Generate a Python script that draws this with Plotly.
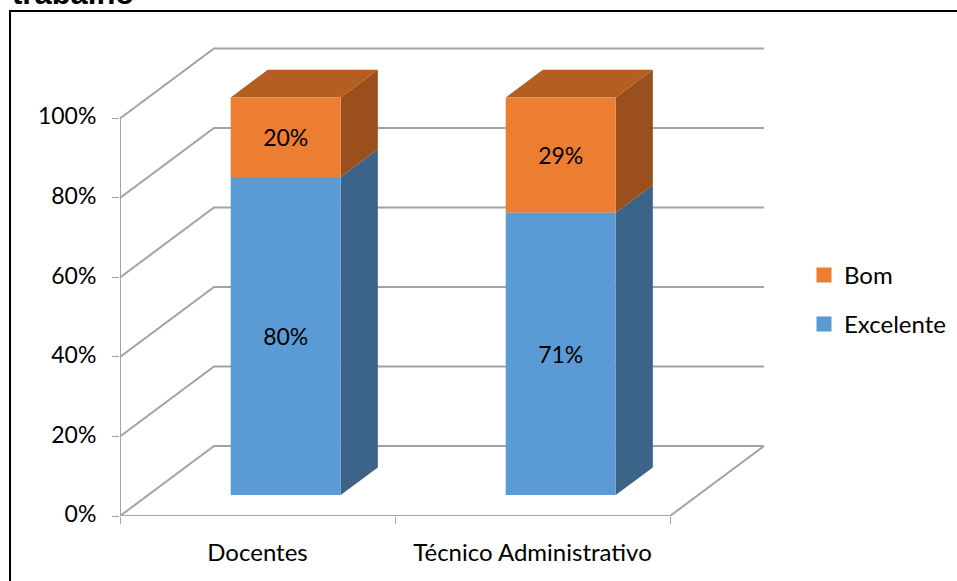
import plotly.graph_objects as go

categories = ["Docentes", "Técnico Administrativo"]
excelente = [80, 71]
bom = [20, 29]
y_ticks = [0, 20, 40, 60, 80, 100]
title_text = "trabalho"

W, H = 957, 581
L, R, T, B = 120, 770, 40, 516.5
X_UNIT = 275.0   # px per category
Y_UNIT = 3.98    # px per percent
DX = 94 / X_UNIT
DY = 70 / Y_UNIT
D_FRONT, D_BACK = 0.30, 0.695
HALF = 55 / X_UNIT
X0, X1 = -0.5, 1.5

GRAY = "#a3a3a3"
BLUE, BLUE_SIDE = "#5B9BD5", "#3B6488"
ORANGE, ORANGE_SIDE, ORANGE_TOP = "#ED7D31", "#9A4F1C", "#B45E22"
FONT = "Lato"
FS = 24
FS_NUM = 23


def polys(rings):
    xs, ys = [], []
    for ring in rings:
        for x, y in ring:
            xs.append(x)
            ys.append(y)
        xs.append(ring[0][0])
        ys.append(ring[0][1])
        xs.append(None)
        ys.append(None)
    return xs[:-1], ys[:-1]


fig = go.Figure()

# frame lines: walls and floor
gx, gy = [], []
for v in y_ticks:
    gx += [X0, X0 + DX, X1 + DX, None]
    gy += [v, v + DY, v + DY, None]
gx += [X0, X0, None, X0, X1, X1 + DX]
gy += [0, 100, None, 0, 0, DY]
fig.add_trace(go.Scatter(x=gx, y=gy, mode="lines", line=dict(color=GRAY, width=2),
                         showlegend=False, hoverinfo="skip", zorder=0, cliponaxis=False))


def side(cat, lo, hi):
    x = cat + D_FRONT * DX + HALF
    xb = cat + D_BACK * DX + HALF
    return [(x, lo + D_FRONT * DY), (xb, lo + D_BACK * DY), (xb, hi + D_BACK * DY), (x, hi + D_FRONT * DY)]


def top(cat, v):
    return [(cat + D_FRONT * DX - HALF, v + D_FRONT * DY), (cat + D_BACK * DX - HALF, v + D_BACK * DY),
            (cat + D_BACK * DX + HALF, v + D_BACK * DY), (cat + D_FRONT * DX + HALF, v + D_FRONT * DY)]


positions = list(range(len(categories)))
sx, sy = polys([side(c, 0, e) for c, e in zip(positions, excelente)])
fig.add_trace(go.Scatter(x=sx, y=sy, mode="lines", fill="toself", fillcolor=BLUE_SIDE, line=dict(width=0),
                         showlegend=False, hoverinfo="skip", zorder=1))
sx, sy = polys([side(c, e, e + b) for c, e, b in zip(positions, excelente, bom)])
fig.add_trace(go.Scatter(x=sx, y=sy, mode="lines", fill="toself", fillcolor=ORANGE_SIDE, line=dict(width=0),
                         showlegend=False, hoverinfo="skip", zorder=1))
sx, sy = polys([top(c, e + b) for c, e, b in zip(positions, excelente, bom)])
fig.add_trace(go.Scatter(x=sx, y=sy, mode="lines", fill="toself", fillcolor=ORANGE_TOP, line=dict(width=0),
                         showlegend=False, hoverinfo="skip", zorder=1))

bar_x = [c + D_FRONT * DX for c in positions]
base = D_FRONT * DY
fig.add_trace(go.Bar(name="Bom", x=bar_x, y=bom, base=[base + e for e in excelente], width=2 * HALF,
                     marker=dict(color=ORANGE, line=dict(width=0)), text=[f"{v}%" for v in bom],
                     textposition="inside", insidetextanchor="middle", textangle=0,
                     textfont=dict(color="black", size=FS_NUM, family=FONT), showlegend=False, zorder=2))
fig.add_trace(go.Bar(name="Excelente", x=bar_x, y=excelente, base=[base] * 2, width=2 * HALF,
                     marker=dict(color=BLUE, line=dict(width=0)), text=[f"{v}%" for v in excelente],
                     textposition="inside", insidetextanchor="middle", textangle=0,
                     textfont=dict(color="black", size=FS_NUM, family=FONT), showlegend=False, zorder=2))

# legend entries with the reference's 15 px square swatches
for name, color in (("Bom", ORANGE), ("Excelente", BLUE)):
    fig.add_trace(go.Scatter(x=[None], y=[None], mode="markers", name=name, legendgroup=name,
                             marker=dict(symbol="square", size=15, color=color)))

fig.update_layout(
    width=W, height=H, autosize=False,
    margin=dict(l=L, r=W - R, t=T, b=H - B, pad=0, autoexpand=False),
    paper_bgcolor="white", plot_bgcolor="white",
    barmode="overlay",
    font=dict(family=FONT, size=FS, color="black"),
    xaxis=dict(range=[X0, X0 + (R - L) / X_UNIT], tickmode="array", tickvals=positions, ticktext=categories,
               ticks="", showgrid=False, zeroline=False, showline=False, ticklabelstandoff=20,
               automargin=False,
               minor=dict(tickmode="array", tickvals=[-0.5, 0.5, 1.5], ticks="outside", ticklen=7, tickwidth=1,
                          tickcolor=GRAY, showgrid=False)),
    yaxis=dict(range=[0, (B - T) / Y_UNIT], tickmode="array", tickvals=y_ticks, ticktext=[f"{v}%" for v in y_ticks],
               ticks="outside", ticklen=7, tickwidth=1, tickcolor=GRAY, showgrid=False, zeroline=False,
               showline=False, ticklabelstandoff=11, ticklabelshift=-2, automargin=False,
               tickfont=dict(size=FS_NUM)),
    legend=dict(x=(804 - L) / (R - L), y=(B - 253) / (B - T), xanchor="left", yanchor="top",
                traceorder="grouped", tracegroupgap=15, bgcolor="rgba(0,0,0,0)", font=dict(size=FS, family=FONT)),
    shapes=[dict(type="path", xref="paper", yref="paper", layer="below",
                 path=f"M{(10 - L) / (R - L)},{(B - 620) / (B - T)} L{(10 - L) / (R - L)},{(B - 11) / (B - T)} "
                      f"L{(1000 - L) / (R - L)},{(B - 11) / (B - T)}",
                 line=dict(color="black", width=2))],
    annotations=[dict(text=f"<b>{title_text}</b>", xref="paper", yref="paper", x=(10 - L) / (R - L),
                      y=(B - 13) / (B - T), xanchor="left", yanchor="bottom", showarrow=False,
                      font=dict(family="Liberation Sans", size=31, color="black"))],
)

fig.write_html("out.html", config={"displayModeBar": False},
               post_script="document.body.style.margin='0';document.body.style.overflow='hidden';")
